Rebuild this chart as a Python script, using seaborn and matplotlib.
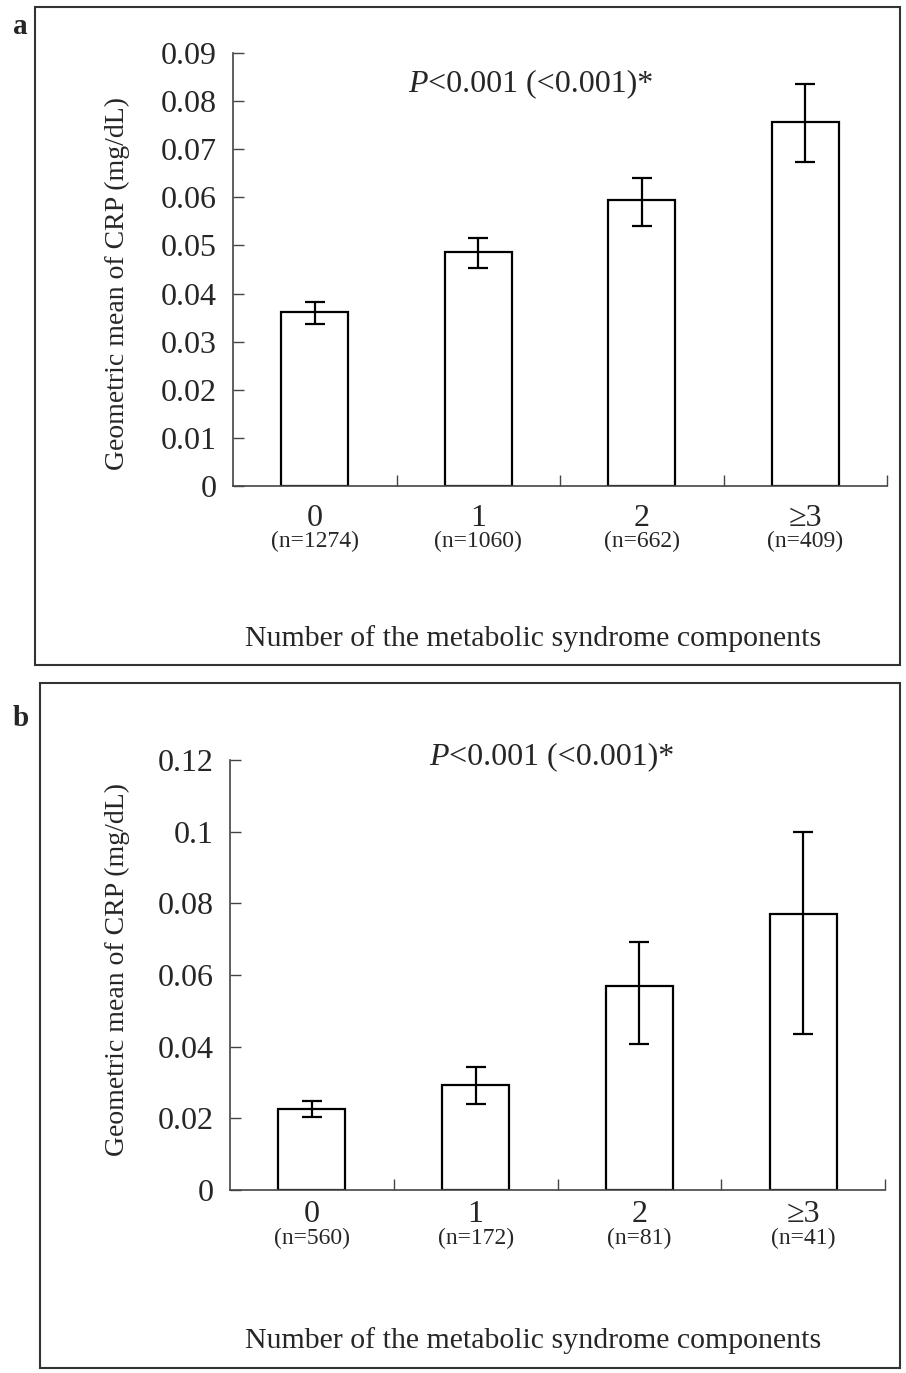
import numpy as np
import pandas as pd
import matplotlib
matplotlib.use("Agg")
import matplotlib.pyplot as plt
from matplotlib.patches import Rectangle
from matplotlib.transforms import blended_transform_factory
import seaborn as sns

# ---------------- data ----------------
categories = ["0", "1", "2", "\u22653"]

n_a = [1274, 1060, 662, 409]
gm_a = [0.0362, 0.0487, 0.0595, 0.0757]
lo_a = [0.0337, 0.0453, 0.0541, 0.0674]
hi_a = [0.0383, 0.0515, 0.0640, 0.0835]
yticks_a = [0, 0.01, 0.02, 0.03, 0.04, 0.05, 0.06, 0.07, 0.08, 0.09]
yticklabels_a = ["0", "0.01", "0.02", "0.03", "0.04", "0.05", "0.06", "0.07", "0.08", "0.09"]

n_b = [560, 172, 81, 41]
gm_b = [0.0227, 0.0294, 0.0570, 0.0771]
lo_b = [0.0204, 0.0239, 0.0407, 0.0436]
hi_b = [0.0249, 0.0344, 0.0692, 0.0999]
yticks_b = [0, 0.02, 0.04, 0.06, 0.08, 0.10, 0.12]
yticklabels_b = ["0", "0.02", "0.04", "0.06", "0.08", "0.1", "0.12"]

ylabel = "Geometric mean of CRP (mg/dL)"
xlabel = "Number of the metabolic syndrome components"
ptext = "<0.001 (<0.001)*"

# ---------------- style ----------------
sns.set_style("ticks")
plt.rcParams["font.family"] = ["Liberation Serif", "DejaVu Serif"]

W, H = 906, 1373
fig = plt.figure(figsize=(W / 100, H / 100), dpi=100)


def fx(px):
    return px / W


def fy(py):
    return 1 - py / H


def panel(ax_rect, gm, lo, hi, ns, yticks, yticklabels, ymax,
          cat_off, n_off, xlab_y, ylab_x, ylab_y, p_x, p_y, letter, letter_y, box):
    ax = fig.add_axes(ax_rect)
    df = pd.DataFrame({"cat": categories, "gm": gm})
    sns.barplot(data=df, x="cat", y="gm", order=categories, ax=ax,
                color="white", edgecolor="black", linewidth=1.6,
                width=0.41, errorbar=None, saturation=1)
    gm = np.array(gm)
    ax.errorbar(np.arange(len(categories)), gm,
                yerr=[gm - np.array(lo), np.array(hi) - gm],
                fmt="none", ecolor="black", elinewidth=1.6,
                capsize=7.5, capthick=1.6)
    ax.set_xlim(-0.5, 3.5)
    ax.set_ylim(0, ymax)
    ax.set_yticks(yticks)
    ax.set_yticklabels(yticklabels, fontsize=23)
    ax.set_xticks([0.5, 1.5, 2.5, 3.5])
    ax.set_xticklabels([])
    ax.tick_params(axis="y", direction="in", length=8, width=1, pad=12, color="#444444")
    ax.tick_params(axis="x", direction="in", length=8, width=1, color="#444444")
    for s in ["top", "right"]:
        ax.spines[s].set_visible(False)
    for s in ["left", "bottom"]:
        ax.spines[s].set_linewidth(1.2)
        ax.spines[s].set_color("#444444")
    ax.set_xlabel("")
    ax.set_ylabel("")
    trans = blended_transform_factory(ax.transData, ax.transAxes)
    ax_h_px = ax_rect[3] * H
    for i, (c, n) in enumerate(zip(categories, ns)):
        ax.text(i, -cat_off / ax_h_px, c, transform=trans, ha="center", va="center",
                fontsize=23, clip_on=False)
        ax.text(i, -n_off / ax_h_px, f"(n={n})", transform=trans, ha="center", va="center",
                fontsize=17, clip_on=False)
    fig.text(fx(533), fy(xlab_y), xlabel, ha="center", va="center", fontsize=21.5)
    fig.text(fx(ylab_x), fy(ylab_y), ylabel, ha="center", va="center", rotation=90, fontsize=20)
    fig.text(fx(p_x), fy(p_y), "P", ha="right", va="center", fontsize=23, style="italic")
    fig.text(fx(p_x), fy(p_y), ptext, ha="left", va="center", fontsize=23)
    fig.text(fx(13), fy(letter_y), letter, ha="left", va="center", fontsize=21, fontweight="bold")
    x0, y0, x1, y1 = box
    fig.patches.append(Rectangle((fx(x0), fy(y1)), fx(x1) - fx(x0), fy(y0) - fy(y1),
                                 transform=fig.transFigure, fill=False,
                                 edgecolor="#333333", linewidth=1.5))
    return ax


# panel a: axis x 233..887, y 0 at 486, 0.09 at 53
panel([fx(233), fy(486), fx(887) - fx(233), fy(53) - fy(486)],
      gm_a, lo_a, hi_a, n_a, yticks_a, yticklabels_a, 0.09,
      cat_off=32, n_off=55, xlab_y=639, ylab_x=117, ylab_y=284,
      p_x=428, p_y=84, letter="a", letter_y=27, box=(35, 7, 900, 665))

# panel b: axis x 230..885, y 0 at 1190, 0.12 at 760
panel([fx(230), fy(1190), fx(885) - fx(230), fy(760) - fy(1190)],
      gm_b, lo_b, hi_b, n_b, yticks_b, yticklabels_b, 0.12,
      cat_off=25, n_off=48, xlab_y=1341, ylab_x=117, ylab_y=970,
      p_x=449, p_y=757, letter="b", letter_y=718, box=(40, 683, 900, 1368))

fig.savefig("out.png", dpi=100, facecolor="white")
